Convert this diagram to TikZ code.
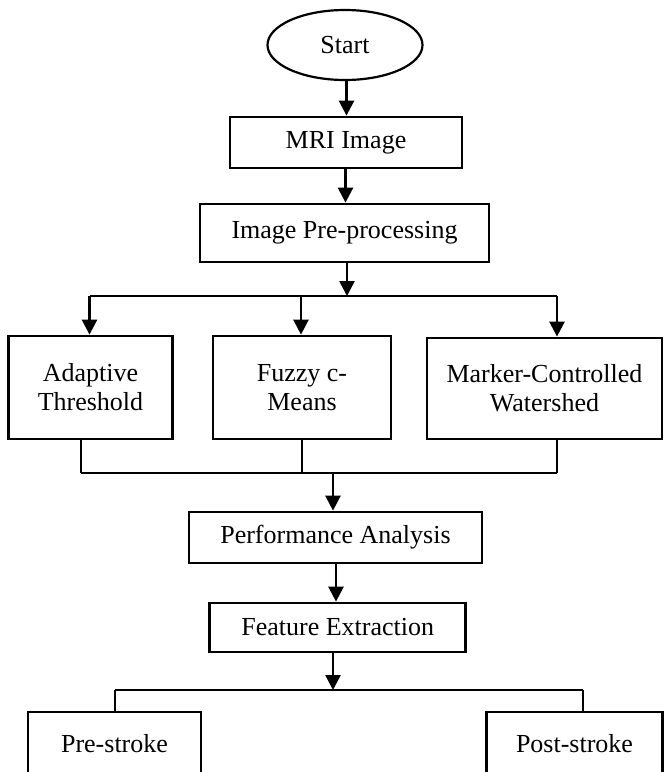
\documentclass[tikz,border=0pt]{standalone}
\usepackage{fontspec}
\setmainfont{Liberation Serif}
\usetikzlibrary{shapes.geometric,arrows.meta}
\begin{document}
\begin{tikzpicture}[x=1pt,y=-1pt,
  every node/.style={font=\fontsize{26}{29}\selectfont, inner sep=0pt, align=center},
  box/.style={draw, line width=2.8pt, rectangle},
  oval/.style={draw, line width=2.2pt, ellipse},
  arr/.style={line width=2.6pt, -{Triangle[length=15pt,width=15pt]}},
  thin/.style={line width=1.4pt}]
\useasboundingbox (0,0) rectangle (665,772);
\clip (0,0) rectangle (665,772);
\node[oval, minimum width=155pt, minimum height=70pt] (start) at (345,45) {Start};
\node[box, minimum width=232pt, minimum height=51pt] (mri) at (346,142.5) {MRI Image};
\node[box, minimum width=289pt, minimum height=58pt] (pre) at (344.5,233) {Image Pre-processing};
\node[box, minimum width=164pt, minimum height=103pt] (adapt) at (90.5,387.5) {Adaptive\\Threshold};
\node[box, minimum width=178pt, minimum height=103pt] (fuzzy) at (302,387.5) {Fuzzy c-\\Means};
\node[box, minimum width=235pt, minimum height=101pt] (marker) at (544.5,388.5) {Marker-Controlled\\Watershed};
\node[box, minimum width=293pt, minimum height=51pt] (perf) at (335.5,537.5) {Performance Analysis};
\node[box, minimum width=256pt, minimum height=49pt] (feat) at (337.75,627.5) {Feature Extraction};
\node[box, minimum width=173pt, minimum height=64pt] (prs) at (114.5,744) {Pre-stroke};
\node[box, minimum width=176pt, minimum height=64pt] (pos) at (574.5,744) {Post-stroke};

\coordinate (a0) at (346.5,0);
\coordinate (a1) at (345.5,0);
\coordinate (a2) at (336,0);
\coordinate (s0) at (347,296);
\coordinate (s1) at (89.5,296);
\coordinate (s2) at (301,296);
\coordinate (s3) at (557,296);
\coordinate (m1) at (81,473);
\coordinate (m2) at (302,473);
\coordinate (m3) at (557,473);
\coordinate (m0) at (333,473);
\coordinate (f0) at (333,690);
\coordinate (f1) at (115,690);
\coordinate (f2) at (583,690);

\draw[arr] (a0 |- start.south) -- (a0 |- mri.north);
\draw[arr] (a1 |- mri.south) -- (a1 |- pre.north);
\draw[arr] (pre.south -| s0) -- (s0);
\draw[thin] (s1) -- (s3);
\draw[arr] (s1) -- (s1 |- adapt.north);
\draw[arr] (s2) -- (s2 |- fuzzy.north);
\draw[arr] (s3) -- (s3 |- marker.north);

\draw[thin] (m1 |- adapt.south) -- (m1);
\draw[thin] (m2 |- fuzzy.south) -- (m2);
\draw[thin] (m3 |- marker.south) -- (m3);
\draw[thin] (m1) -- (m3);
\draw[arr] (m0) -- (m0 |- perf.north);
\draw[arr] (a2 |- perf.south) -- (a2 |- feat.north);
\draw[arr] (feat.south -| f0) -- (f0);
\draw[thin] (f1) -- (f2);
\draw[thin] (f1) -- (f1 |- prs.north);
\draw[thin] (f2) -- (f2 |- pos.north);
\end{tikzpicture}
\end{document}
